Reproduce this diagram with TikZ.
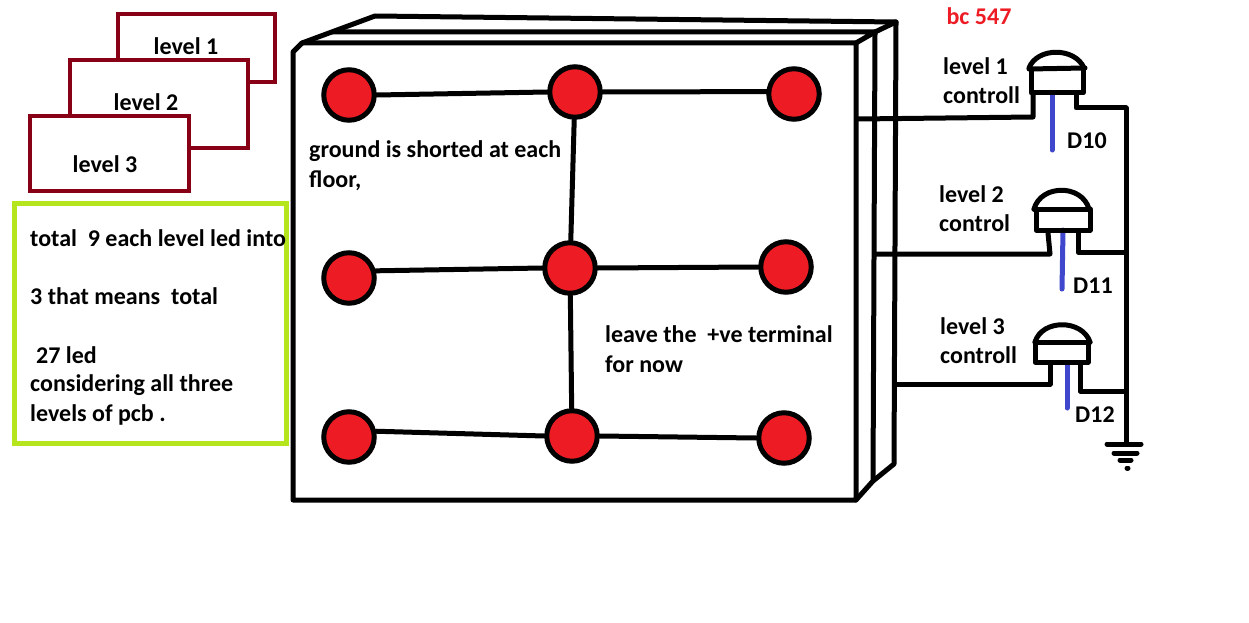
\documentclass[tikz,border=0pt]{standalone}
\usepackage{fontspec}
\setmainfont{Carlito}[BoldFont={Carlito Bold}]
\definecolor{maroon}{HTML}{880015}
\definecolor{lime}{HTML}{B5E61D}
\definecolor{ledred}{HTML}{ED1C24}
\definecolor{pin}{HTML}{3F48CC}
\tikzset{
 blk/.style={draw=black,line width=5pt,line cap=round,line join=round},
 lvl/.style={draw=maroon,line width=4.5pt,fill=white},
 led/.style={circle,draw=black,line width=5pt,fill=ledred,minimum size=50.5pt,inner sep=0pt},
 lbl/.style={font=\fontsize{24}{28}\selectfont\bfseries,text=black,inner sep=0pt,align=left},
 lead/.style={draw=pin,line width=5pt,line cap=round}
}
\begin{document}
\begin{tikzpicture}[x=1pt,y=-1pt]
\useasboundingbox (0,0) rectangle (1249,623);
% level sheets
\draw[lvl] (118,14) rectangle (275,82);
\draw[lvl] (70,60) rectangle (248,148);
\draw[lvl] (30,116) rectangle (189,191);
\node[lbl] (l1) at (186,46.5) {level 1};
\node[lbl] (l2) at (146,102) {level 2};
\node[lbl] (l3) at (105,164) {level 3};
% note
\draw[draw=lime,line width=5pt] (14,203) rectangle (286,443);
\node[lbl,anchor=north west] (note) at (30,229) {total\ \ 9 each level led into};
\node[lbl,anchor=north west] (note2) at (30,287) {3 that means\ \ total};
\node[lbl,anchor=north west] (note3) at (36,346) {27 led};
\node[lbl,anchor=north west] (note4) at (30,374) {considering all three};
\node[lbl,anchor=north west] (note5) at (30,404) {levels of pcb .};
% box
\coordinate (tl) at (293,52);
\coordinate (a1) at (302,43);
\coordinate (tr) at (856,43);
\coordinate (br) at (856,500);
\coordinate (bl) at (293,500);
\coordinate (a2) at (333,32);
\coordinate (a3) at (375,16);
\coordinate (b1) at (875,32);
\coordinate (b2) at (896,22);
\coordinate (c1) at (873,481);
\coordinate (c2) at (894,464);
\draw[blk] (tl) -- (a1) -- (tr) -- (br) -- (bl) -- cycle;
\draw[blk] (a1) -- (a3) -- (b2) -- (c2) -- (c1) -- (br);
\draw[blk] (tr) -- (b1) -- (a2);
\draw[blk] (b1) -- (b2);
\draw[blk] (b1) -- (c1);
% LEDs
\node[led] (n11) at (349,95) {};
\node[led] (n12) at (575,92) {};
\node[led] (n13) at (794,94) {};
\node[led] (n21) at (349,278) {};
\node[led] (n22) at (570,268) {};
\node[led] (n23) at (786,267) {};
\node[led] (n31) at (349,437) {};
\node[led] (n32) at (572,436) {};
\node[led] (n33) at (784,438) {};
\draw[blk] (n11.east) -- (n12.west);
\draw[blk] (n12.east) -- (n13.175);
\draw[blk] (n21.15) -- (n22.west);
\draw[blk] (n22.east) -- (n23.west);
\draw[blk] (n31.12) -- (n32.west);
\draw[blk] (n32.east) -- (n33.west);
\draw[blk] (n12) -- (n22);
\draw[blk] (n22) -- (n32);
\node[lbl,anchor=north west] (g1) at (309,140.5) {ground is shorted at each};
\node[lbl,anchor=north west] (g2) at (309,170.5) {floor,};
\node[lbl,anchor=north west] (v1) at (605,325.5) {leave the\ \ +ve terminal};
\node[lbl,anchor=north west] (v2) at (605,355.5) {for now};
% right text
\node[font=\fontsize{24}{28}\selectfont\bfseries,text=ledred,inner sep=0pt] (bc) at (979,16) {bc 547};
\node[lbl,anchor=north west] (t1a) at (943,57) {level 1};
\node[lbl,anchor=north west] (t1b) at (943,86) {controll};
\node[lbl,anchor=north west] (t2a) at (939,185) {level 2};
\node[lbl,anchor=north west] (t2b) at (939,214) {control};
\node[lbl,anchor=north west] (t3a) at (940,317) {level 3};
\node[lbl,anchor=north west] (t3b) at (940,346) {controll};
\node[lbl,anchor=north west] (d10) at (1067,132.5) {D10};
\node[lbl,anchor=north west] (d11) at (1073,277.5) {D11};
\node[lbl,anchor=north west] (d12) at (1075,407) {D12};
% bus and ground
\coordinate (bus) at (1126,108);
\coordinate (g) at (1126,444);
\draw[blk] (bus) -- (g);
\draw[blk] (1107,444) -- (1141,444);
\draw[blk] (1114,453) -- (1137,453);
\draw[blk] (1120,460) -- (1131,460);
\draw[blk] (1127,468) -- (1128,468);
% transistor 1
\draw[blk] (858,119) -- (1033,117) -- (1033,94);
\draw[blk] (1076,94) -- (1076,108) -- (bus);
\draw[lead] (1052,94) -- (1052,150);
\draw[blk] (1029,68) .. controls (1037,47) and (1075,47) .. (1084,68);
\draw[blk] (1029,69) -- (1085,68);
\draw[blk] (1031,69) -- (1031,93) -- (1083,93) -- (1083,68);
% transistor 2
\draw[blk] (875,254) -- (1050,254) -- (1048,233);
\draw[blk] (1078,233) -- (1078,252) -- (1126,252);
\draw[lead] (1063,230) -- (1062,289);
\draw[blk] (1034,209) .. controls (1041,184) and (1082,184) .. (1089,209);
\draw[blk] (1034,209) -- (1089,209);
\draw[blk] (1036,209) -- (1036,230) -- (1090,230) -- (1090,209);
% transistor 3
\draw[blk] (895,384) -- (1050,384) -- (1050,363);
\draw[blk] (1080,363) -- (1080,391) -- (1126,391);
\draw[lead] (1067,364) -- (1067,408);
\draw[blk] (1035,342) .. controls (1042,319) and (1082,319) .. (1090,342);
\draw[blk] (1035,342) -- (1090,342);
\draw[blk] (1035,342) -- (1035,362) -- (1088,362) -- (1088,342);
\end{tikzpicture}
\end{document}
